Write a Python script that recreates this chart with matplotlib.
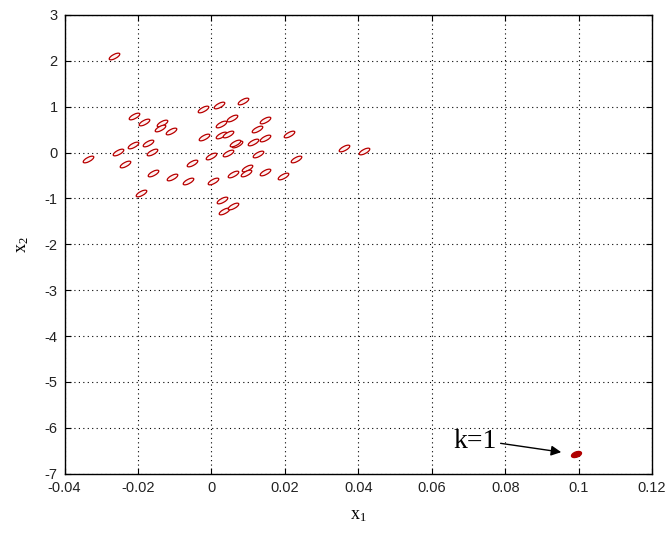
import matplotlib
matplotlib.use("Agg")
import matplotlib.pyplot as plt
from matplotlib.markers import MarkerStyle
from matplotlib.transforms import Affine2D

plt.rcParams['mathtext.fontset'] = 'custom'
plt.rcParams['mathtext.rm'] = 'Liberation Serif'
plt.rcParams['mathtext.it'] = 'Liberation Serif:italic'
plt.rcParams['axes.unicode_minus'] = False

# cluster of trajectories (x1, x2)
x1 = [-0.0265, -0.0022, 0.0022, 0.0085, -0.0210, -0.0183, -0.0134, -0.0139,
      -0.0109, -0.0019, 0.0025, 0.0057, 0.0025, 0.0123, 0.0147, 0.0147,
      0.0210, 0.0071, 0.0112, 0.0044, -0.0213, -0.0172, -0.0254, -0.0161,
      -0.0336, -0.0235, 0.0000, -0.0052, -0.0158, -0.0106, -0.0065, 0.0005,
      -0.0191, 0.0030, 0.0035, 0.0044, 0.0126, 0.0229, 0.0360, 0.0415,
      0.0060, 0.0098, 0.0093, 0.0147, 0.0196, 0.0060, 0.0063]
x2 = [2.11, 0.95, 1.04, 1.12, 0.80, 0.67, 0.64, 0.53,
      0.47, 0.34, 0.38, 0.75, 0.62, 0.51, 0.71, 0.32,
      0.40, 0.19, 0.23, 0.40, 0.16, 0.21, 0.01, 0.01,
      -0.14, -0.25, -0.08, -0.23, -0.45, -0.54, -0.62, -0.62,
      -0.88, -1.04, -1.28, -0.01, -0.03, -0.14, 0.10, 0.03,
      -0.47, -0.34, -0.45, -0.43, -0.51, -1.17, 0.21]

# the k=1 point
k1_x = [0.0993]
k1_y = [-6.58]
k1_label = 'k=1'

xticks = [-0.04, -0.02, 0, 0.02, 0.04, 0.06, 0.08, 0.1, 0.12]
xticklabels = ['-0.04', '-0.02', '0', '0.02', '0.04', '0.06', '0.08', '0.1', '0.12']
yticks = [3, 2, 1, 0, -1, -2, -3, -4, -5, -6, -7]

fig = plt.figure(figsize=(6.7, 5.34), dpi=100)
ax = fig.add_axes([0.0963, 0.113, 0.877, 0.859])

m = MarkerStyle('o', transform=Affine2D().scale(1.0, 0.36).rotate_deg(28))
ax.plot(x1, x2, linestyle='none', marker=m, markersize=8.5,
        markerfacecolor='#fff0f0', markeredgecolor='#b80000', markeredgewidth=0.9)
m2 = MarkerStyle('o', transform=Affine2D().scale(1.0, 0.5).rotate_deg(20))
ax.plot(k1_x, k1_y, linestyle='none', marker=m2, markersize=7.5,
        markerfacecolor='#b00000', markeredgecolor='#b00000')

ax.annotate('', xy=(0.0960, -6.54), xytext=(0.0780, -6.33),
            arrowprops=dict(arrowstyle='-|>', color='black', lw=1.0,
                            mutation_scale=15))
ax.text(0.0776, -6.3, k1_label, ha='right', va='center',
        fontsize=20, family='Liberation Serif')

ax.set_xlim(-0.04, 0.12)
ax.set_ylim(-7, 3)
ax.set_xticks(xticks)
ax.set_xticklabels(xticklabels)
ax.set_yticks(yticks)
ax.grid(True, linestyle=(0, (1, 3)), color='black', linewidth=0.8)
ax.tick_params(direction='in', top=True, right=True, length=4,
               labelsize=10.5, pad=5)
for lab in ax.get_xticklabels() + ax.get_yticklabels():
    lab.set_family('Liberation Sans')
    lab.set_color('#222222')
for s in ax.spines.values():
    s.set_linewidth(1.0)

ax.set_xlabel(r'$\mathrm{x}_1$', fontsize=13, labelpad=8)
ax.set_ylabel(r'$\mathrm{x}_2$', fontsize=13, labelpad=10)

fig.savefig('out.png', dpi=100)
